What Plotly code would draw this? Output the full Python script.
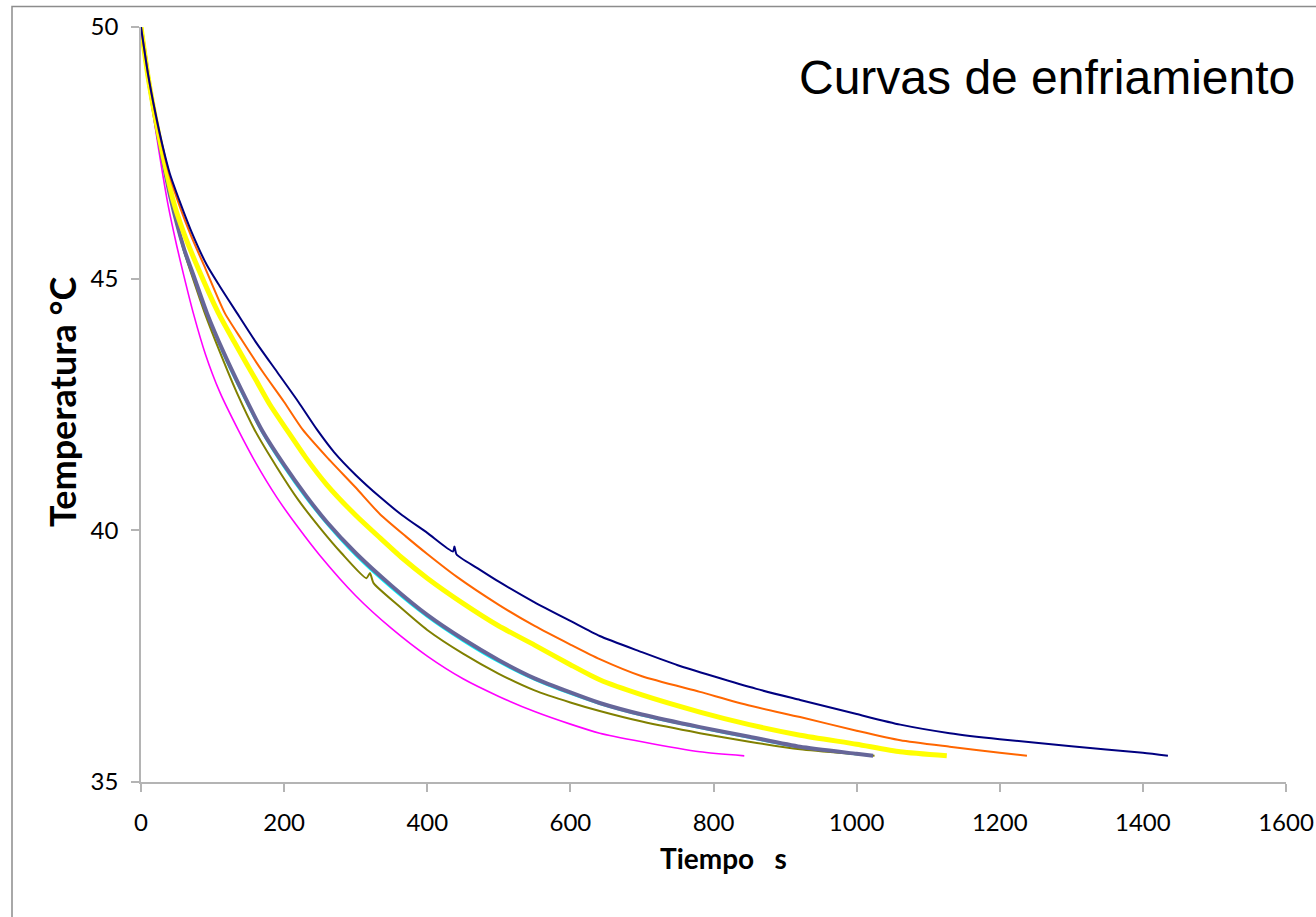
import plotly.graph_objects as go

# --- data (time s, temperature °C) ---
navy_t = [0, 10, 20, 30, 40, 55, 70, 92, 110, 134, 160, 190, 220, 246, 270, 300, 334, 365, 400, 436, 438, 441, 470, 500, 550, 600, 641, 700, 750, 800, 860, 921, 1000, 1061, 1130, 1200, 1300, 1400, 1435]
navy_T = [50, 49.05, 48.3, 47.65, 47.1, 46.5, 45.95, 45.27, 44.85, 44.32, 43.75, 43.15, 42.55, 42.0, 41.55, 41.1, 40.66, 40.3, 39.95, 39.58, 39.68, 39.52, 39.25, 38.98, 38.57, 38.2, 37.9, 37.58, 37.32, 37.1, 36.85, 36.63, 36.35, 36.14, 35.97, 35.85, 35.71, 35.58, 35.52]

orange_t = [0, 10, 20, 30, 40, 55, 70, 90, 117, 140, 170, 200, 226, 260, 300, 334, 370, 400, 441, 500, 550, 600, 641, 700, 781, 850, 921, 1000, 1061, 1130, 1200, 1238]
orange_T = [50, 49.05, 48.28, 47.62, 47.05, 46.4, 45.85, 45.2, 44.32, 43.8, 43.15, 42.55, 42.0, 41.45, 40.85, 40.32, 39.88, 39.53, 39.08, 38.52, 38.1, 37.73, 37.44, 37.1, 36.79, 36.52, 36.29, 36.02, 35.83, 35.7, 35.58, 35.52]

yellow_t = [0, 10, 20, 30, 45, 60, 80, 108, 130, 160, 180, 204, 230, 260, 300, 334, 365, 400, 450, 500, 550, 600, 641, 700, 781, 850, 921, 1000, 1061, 1126]
yellow_T = [50, 49.0, 48.2, 47.5, 46.55, 45.9, 45.2, 44.32, 43.75, 43.0, 42.5, 41.99, 41.45, 40.9, 40.3, 39.85, 39.45, 39.05, 38.55, 38.1, 37.72, 37.33, 37.03, 36.73, 36.39, 36.14, 35.93, 35.75, 35.6, 35.52]

cyan_t = [0, 10, 20, 30, 41, 60, 75, 92, 115, 140, 169, 200, 230, 260, 300, 350, 400, 450, 500, 550, 600, 641, 700, 781, 850, 921, 1000, 1020]
cyan_T = [50, 48.98, 48.12, 47.35, 46.6, 45.55, 44.95, 44.3, 43.5, 42.75, 41.95, 41.25, 40.65, 40.12, 39.5, 38.85, 38.28, 37.8, 37.38, 37.03, 36.75, 36.55, 36.32, 36.07, 35.88, 35.68, 35.55, 35.52]

slate_t = [0, 10, 20, 30, 41, 60, 75, 92, 115, 140, 169, 200, 230, 260, 300, 350, 400, 450, 500, 550, 600, 641, 700, 781, 850, 921, 1000, 1023]
slate_T = [50, 49.0, 48.15, 47.4, 46.62, 45.6, 45.0, 44.32, 43.55, 42.8, 41.99, 41.3, 40.7, 40.16, 39.55, 38.9, 38.32, 37.84, 37.42, 37.06, 36.78, 36.57, 36.34, 36.09, 35.9, 35.7, 35.56, 35.52]

olive_t = [0, 10, 20, 30, 40, 60, 75, 89, 110, 135, 159, 190, 220, 250, 280, 315, 320, 325, 360, 400, 450, 500, 550, 600, 641, 700, 781, 850, 921, 1000, 1025]
olive_T = [50, 48.98, 48.1, 47.35, 46.7, 45.55, 44.9, 44.32, 43.55, 42.7, 41.99, 41.25, 40.6, 40.05, 39.55, 39.05, 39.15, 38.95, 38.5, 38.02, 37.55, 37.15, 36.82, 36.58, 36.41, 36.2, 35.97, 35.8, 35.65, 35.55, 35.52]

magenta_t = [0, 10, 20, 30, 38, 50, 60, 73, 90, 110, 136, 160, 190, 220, 250, 300, 350, 400, 450, 500, 550, 600, 641, 700, 781, 843]
magenta_T = [50, 48.95, 48.0, 47.1, 46.45, 45.65, 45.05, 44.32, 43.5, 42.75, 41.99, 41.35, 40.65, 40.05, 39.5, 38.7, 38.05, 37.5, 37.05, 36.7, 36.4, 36.15, 35.97, 35.8, 35.6, 35.52]

x_ticks = [0, 200, 400, 600, 800, 1000, 1200, 1400, 1600]
y_ticks = [35, 40, 45, 50]

fig = go.Figure()

def add(t, T, color, width):
    fig.add_trace(go.Scatter(x=t, y=T, mode="lines", line=dict(color=color, width=width, shape="spline", smoothing=0.6),
                             showlegend=False))

add(cyan_t, cyan_T, "#00FFFF", 2)
add(magenta_t, magenta_T, "#FF00FF", 1.6)
add(olive_t, olive_T, "#808000", 2)
add(slate_t, slate_T, "#666699", 4)
add(yellow_t, yellow_T, "#FFFF00", 5)
add(orange_t, orange_T, "#FF6600", 2)
add(navy_t, navy_T, "#000080", 2)

axis_color = "#B4B4B4"
tick_font = dict(family="Lato", size=24, color="#000000")

L, R, T0, B = 141, 1286, 27, 782
W, H = R - L, B - T0

fig.update_layout(
    width=1316, height=917,
    margin=dict(l=L, r=1316 - R, t=T0, b=917 - B, autoexpand=False),
    paper_bgcolor="white", plot_bgcolor="white",
    xaxis=dict(range=[0, 1600], tickvals=x_ticks, showgrid=False, zeroline=False, automargin=False,
               showline=True, linecolor=axis_color, linewidth=1.5,
               ticks="outside", ticklen=8, tickcolor=axis_color, tickwidth=1.5,
               tickfont=tick_font, ticklabelstandoff=10),
    yaxis=dict(range=[35, 50], tickvals=y_ticks, showgrid=False, zeroline=False, automargin=False,
               showline=True, linecolor=axis_color, linewidth=1.5,
               ticks="outside", ticklen=8, tickcolor=axis_color, tickwidth=1.5,
               tickfont=tick_font, ticklabelstandoff=8),
)

fig.add_annotation(text="<b>Tiempo&nbsp;&nbsp;&nbsp;s</b>", xref="paper", yref="paper",
                   x=(723 - L) / W, y=(B - 858) / H, xanchor="center", yanchor="middle",
                   showarrow=False, font=dict(family="Lato", size=28, color="#000"))
fig.add_annotation(text="<b>Temperatura °C</b>", xref="paper", yref="paper", textangle=-90,
                   x=(62 - L) / W, y=(B - 402) / H, xanchor="center", yanchor="middle",
                   showarrow=False, font=dict(family="Lato", size=36, color="#000"))

fig.add_annotation(text="Curvas de enfriamiento", xref="paper", yref="paper",
                   x=(1297 - L) / W, y=(B - 77) / H, xanchor="right", yanchor="middle",
                   showarrow=False, font=dict(family="Liberation Sans", size=48, color="#000"))

fig.add_shape(type="rect", xref="paper", yref="paper",
              x0=(12 - L) / W, x1=1.2, y0=-0.3, y1=(B - 6.5) / H,
              line=dict(color="#8C8C8C", width=1.5), layer="below")

fig.write_html("out.html")
